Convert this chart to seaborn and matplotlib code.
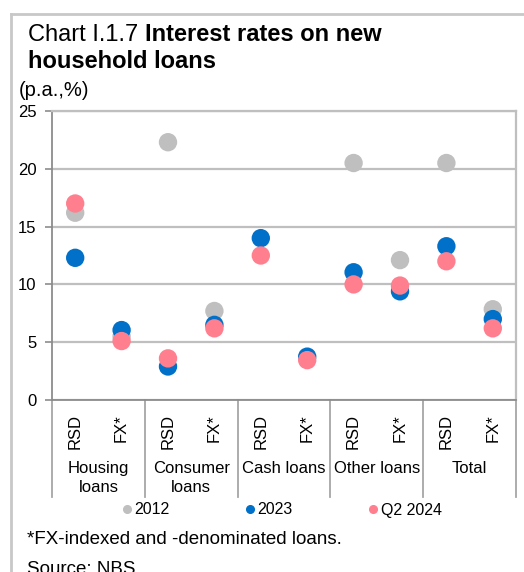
import numpy as np
import pandas as pd
import seaborn as sns
import matplotlib.pyplot as plt
from matplotlib.lines import Line2D

plt.rcParams['font.family'] = ['Liberation Sans', 'DejaVu Sans']

# data
groups = ['Housing\nloans', 'Consumer\nloans', 'Cash loans', 'Other loans', 'Total']
currencies = ['RSD', 'FX*']
series = ['2012', '2023', 'Q2 2024']
y2012 = [16.2, 5.5, 22.3, 7.7, np.nan, np.nan, 20.5, 12.1, 20.5, 7.85]
y2023 = [12.3, 6.05, 2.9, 6.5, 14.0, 3.75, 11.05, 9.4, 13.3, 7.0]
yq2_2024 = [17.0, 5.1, 3.6, 6.2, 12.5, 3.45, 10.0, 9.9, 12.0, 6.2]
colors = ['#BFBFBF', '#0070C8', '#FF7F8E']

labels = [c for g in groups for c in currencies]
pos = list(range(len(labels)))
df = pd.DataFrame({
    'pos': pos * 3,
    'value': y2012 + y2023 + yq2_2024,
    'series': [s for s in series for _ in labels],
})

fig = plt.figure(figsize=(5.24, 5.72), dpi=100)
ax = fig.add_axes([52 / 524, 1 - 400 / 572, 464 / 524, 289 / 572])

sns.scatterplot(data=df, x='pos', y='value', hue='series', hue_order=series,
                palette=colors, s=175, linewidth=0, ax=ax, legend=False, zorder=3)

ax.set_xlim(-0.5, len(labels) - 0.5)
ax.set_ylim(0, 25)
ax.set_yticks(range(0, 26, 5))
ax.yaxis.grid(True, color='#BFBFBF', linewidth=1.6)
ax.set_axisbelow(True)
ax.set_xlabel('')
ax.set_ylabel('')
for side in ['top', 'right']:
    ax.spines[side].set_color('#BFBFBF')
    ax.spines[side].set_linewidth(1.6)
for side in ['left', 'bottom']:
    ax.spines[side].set_color('#8C8C8C')
    ax.spines[side].set_linewidth(1.3)
ax.tick_params(axis='y', length=5, width=1.2, color='#8C8C8C', labelsize=12, pad=6)
ax.set_xticks(pos)
ax.set_xticklabels(labels, rotation=90, fontsize=12)
ax.tick_params(axis='x', length=0, pad=10)
for lab in ax.get_xticklabels():
    lab.set_va('top')

# group separators and group names below the axis
tr = ax.get_xaxis_transform()
sep_bottom = -(497 - 400) / 289
for b in np.arange(-0.5, len(labels), 2):
    ax.plot([b, b], [0, sep_bottom], transform=tr, color='#A6A6A6', lw=1.3, clip_on=False)
for i, g in enumerate(groups):
    ax.text(2 * i + 0.5, -(461 - 400) / 289, g, transform=tr, ha='center', va='top',
            fontsize=12, linespacing=1.3)

# legend
handles = [Line2D([], [], marker='o', ls='', color=c, markersize=5.5) for c in colors]
fig.legend(handles, series, loc='center', bbox_to_anchor=(281 / 524, 1 - 510 / 572),
           ncol=3, frameon=False, fontsize=11.5, handletextpad=0.1, columnspacing=4.6,
           handlelength=0.8)

# outer frame (top and left edges)
fig.add_artist(Line2D([11 / 524, 1], [1 - 14 / 572] * 2, color='#C8C8C8', lw=2))
fig.add_artist(Line2D([11 / 524] * 2, [0, 1 - 14 / 572], color='#C8C8C8', lw=2))

t1 = fig.text(28 / 524, 1 - 35 / 572, 'Chart I.1.7 ', fontsize=17, va='center')
fig.add_artist(plt.Annotation('Interest rates on new', xy=(1, 0), xycoords=t1,
                              fontsize=17, fontweight='bold', va='bottom', ha='left'))
fig.text(28 / 524, 1 - 62 / 572, 'household loans', fontsize=17, fontweight='bold', va='center')
fig.text(19 / 524, 1 - 91 / 572, '(p.a.,%)', fontsize=14.5, va='center')
fig.text(27 / 524, 1 - 540 / 572, '*FX-indexed and -denominated loans.', fontsize=13.5, va='center')
fig.text(27 / 524, 1 - 570 / 572, 'Source: NBS', fontsize=13.5, va='center')

fig.savefig('out.png', dpi=100)
